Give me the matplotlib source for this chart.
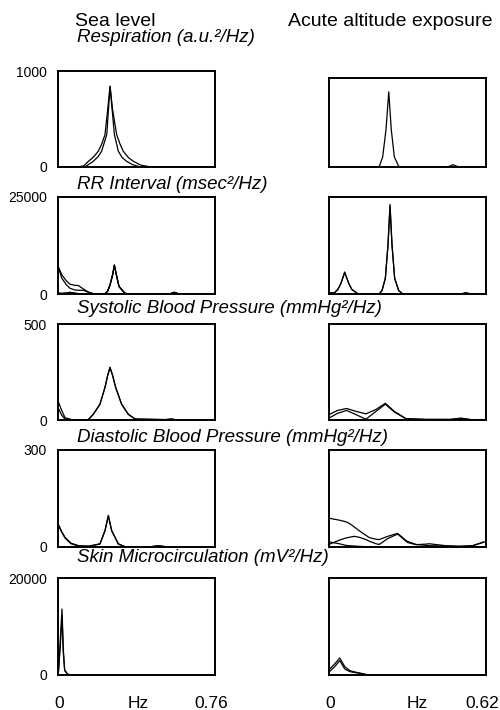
import numpy as np
import matplotlib
matplotlib.use('Agg')
import matplotlib.pyplot as plt

plt.rcParams['font.family'] = ['Liberation Sans', 'DejaVu Sans']

# column headers, panel titles, y limits, x limits
col_titles = ['Sea level', 'Acute altitude exposure']
row_titles = ['Respiration (a.u.²/Hz)', 'RR Interval (msec²/Hz)',
              'Systolic Blood Pressure (mmHg²/Hz)',
              'Diastolic Blood Pressure (mmHg²/Hz)',
              'Skin Microcirculation (mV²/Hz)']
y_max = [1000, 25000, 500, 300, 20000]
f_max = [0.76, 0.62]
f_labels = ['0.76', '0.62']

# Respiration
resp_sea_f1 = [0, 0.09, 0.125, 0.147, 0.17, 0.195, 0.212, 0.2275, 0.24, 0.252,
               0.264, 0.284, 0.30, 0.316, 0.34, 0.365, 0.40, 0.45, 0.76]
resp_sea_a = [0, 0, 12, 59, 100, 164, 240, 338, 590, 843,
              600, 338, 240, 164, 100, 59, 20, 0, 0]
resp_sea_f2 = [0, 0.13, 0.171, 0.195, 0.211, 0.236, 0.252, 0.273, 0.292, 0.31,
               0.332, 0.36, 0.40, 0.76]
resp_sea_b = [0, 0, 59, 110, 164, 338, 838, 338, 164, 100, 59, 25, 0, 0]
resp_alt_f = [0, 0.19, 0.199, 0.212, 0.225, 0.236, 0.246, 0.258, 0.275, 0.29,
              0.46, 0.473, 0.489, 0.508, 0.52, 0.62]
resp_alt_a = [0, 0, 8, 114, 417, 844, 417, 114, 8, 0, 0, 5, 26, 5, 0, 0]

# RR interval
rr_sea_f = [0, 0.018, 0.04, 0.058, 0.08, 0.098, 0.123, 0.147, 0.171, 0.2275, 0.24,
            0.252, 0.2646, 0.2727, 0.2824, 0.2953, 0.324, 0.35, 0.54, 0.563, 0.586, 0.76]
rr_sea_a = [7200, 5000, 3400, 2540, 2250, 2190, 1300, 500, 90, 90, 700,
            2370, 5000, 7450, 5000, 1930, 175, 0, 0, 440, 0, 0]
rr_sea_b = [7200, 4120, 2400, 1490, 1050, 960, 960, 440, 60, 90, 700,
            2370, 5000, 7450, 5000, 1930, 175, 0, 0, 440, 0, 0]
rr_sea_c = [300, 200, 300, 440, 300, 100, 50, 30, 30, 90, 700,
            2370, 5000, 7400, 5000, 1930, 175, 0, 0, 400, 0, 0]
rr_alt_f = [0, 0.021, 0.035, 0.0474, 0.0619, 0.0777, 0.09, 0.113, 0.19, 0.1988, 0.2093,
            0.2225, 0.233, 0.241, 0.2488, 0.2593, 0.2751, 0.291, 0.52, 0.541, 0.56, 0.62]
rr_alt_a = [300, 300, 1200, 2800, 5660, 2800, 1200, 100, 0, 50, 900,
            4100, 12800, 23080, 12800, 4100, 900, 50, 0, 350, 0, 0]
rr_alt_b = [250, 280, 1150, 2750, 5550, 2750, 1150, 100, 0, 50, 880,
            4000, 12500, 22600, 12500, 4000, 880, 50, 0, 300, 0, 0]

# Systolic blood pressure
sbp_sea_f = [0, 0.0178, 0.034, 0.066, 0.147, 0.171, 0.203, 0.2275, 0.24, 0.2517,
             0.265, 0.279, 0.308, 0.34, 0.373, 0.52, 0.548, 0.575, 0.76]
sbp_sea_a = [100, 50, 12, 2, 2, 30, 82, 170, 230, 275, 230, 170, 82, 30, 5, 2, 5, 1, 0]
sbp_sea_b = [65, 25, 5, 1, 2, 30, 82, 170, 230, 272, 230, 170, 82, 30, 5, 2, 5, 1, 0]
sbp_alt_f = [0, 0.0342, 0.0698, 0.1066, 0.146, 0.1856, 0.2225, 0.258, 0.304, 0.383,
             0.48, 0.521, 0.56, 0.62]
sbp_alt_a = [28, 50, 60, 45, 32, 55, 87, 45, 7, 3, 3, 10, 2, 2]
sbp_alt_b = [10, 35, 50, 28, 4, 45, 82, 42, 6, 3, 3, 8, 2, 2]

# Diastolic blood pressure
dbp_sea_f = [0, 0.0178, 0.0339, 0.0629, 0.1, 0.15, 0.2033, 0.2275, 0.2437, 0.2598,
             0.292, 0.324, 0.45, 0.486, 0.52, 0.76]
dbp_sea_a = [72, 48, 30, 12, 4, 2, 9, 51, 98, 51, 9, 1, 1, 4, 1, 0]
dbp_sea_b = [70, 46, 28, 10, 3, 3, 10, 50, 96, 50, 10, 1, 1, 4, 1, 0]
dbp_alt_f = [0, 0.0408, 0.067, 0.0803, 0.1, 0.1198, 0.146, 0.1593, 0.1856, 0.1988, 0.2317,
             0.2712, 0.304, 0.3107, 0.3436, 0.383, 0.396, 0.462, 0.5147, 0.5674, 0.612]
dbp_alt_a = [89, 83, 78, 73, 62, 50, 36, 29, 24, 23, 33, 42, 20, 17, 8, 5, 4, 3, 2, 4, 16]
dbp_alt_b = [8, 21, 28, 30, 33, 30, 23, 18, 10, 8, 26, 40, 18, 14, 7, 9, 10, 4, 2, 4, 15]
dbp_alt_c = [16, 10, 5, 4, 3, 2, 1, 1, 0, 0, 0, 0, 0, 0, 0, 0, 0, 0, 0, 0, 0]

# Skin microcirculation
skin_sea_f = [0, 0.003, 0.0112, 0.0193, 0.0258, 0.0323, 0.047, 0.08, 0.76]
skin_sea_a = [0, 1400, 7300, 13590, 5200, 1050, 140, 0, 0]
skin_sea_b = [0, 1000, 6000, 12200, 4500, 900, 100, 0, 0]
skin_alt_f = [0, 0.003, 0.0226, 0.0424, 0.0623, 0.082, 0.108, 0.122, 0.148, 0.155, 0.62]
skin_alt_a = [1240, 1240, 2280, 3520, 1730, 900, 550, 400, 70, 0, 0]
skin_alt_b = [750, 750, 1720, 2970, 1240, 700, 450, 350, 100, 0, 0]

curves = [
    [[(resp_sea_f1, resp_sea_a), (resp_sea_f2, resp_sea_b)],
     [(resp_alt_f, resp_alt_a)]],
    [[(rr_sea_f, rr_sea_a), (rr_sea_f, rr_sea_b), (rr_sea_f, rr_sea_c)],
     [(rr_alt_f, rr_alt_a), (rr_alt_f, rr_alt_b)]],
    [[(sbp_sea_f, sbp_sea_a), (sbp_sea_f, sbp_sea_b)],
     [(sbp_alt_f, sbp_alt_a), (sbp_alt_f, sbp_alt_b)]],
    [[(dbp_sea_f, dbp_sea_a), (dbp_sea_f, dbp_sea_b)],
     [(dbp_alt_f, dbp_alt_a), (dbp_alt_f, dbp_alt_b), (dbp_alt_f, dbp_alt_c)]],
    [[(skin_sea_f, skin_sea_a), (skin_sea_f, skin_sea_b)],
     [(skin_alt_f, skin_alt_a), (skin_alt_f, skin_alt_b)]],
]

W, H = 500, 710
fig = plt.figure(figsize=(W / 100, H / 100), dpi=100)

col_x = [58, 329]
ax_w = 157
row_tb = [(71, 167), (197, 294), (324, 420), (450, 547), (578, 675)]
title_base = [42, 189, 313, 442, 562]


def px_axes(x0, top, w, bottom):
    return fig.add_axes([x0 / W, 1 - bottom / H, w / W, (bottom - top) / H])


for r in range(5):
    fig.text(77 / W, 1 - title_base[r] / H, row_titles[r], fontsize=13.5,
             style='italic', ha='left', va='baseline')
    for c in range(2):
        top, bottom = row_tb[r]
        if r == 0 and c == 1:
            top = 78
        ax = px_axes(col_x[c], top, ax_w, bottom)
        for f, v in curves[r][c]:
            ax.plot(f, v, color='black', lw=0.9)
        ax.set_xlim(0, f_max[c])
        ax.set_ylim(0, y_max[r])
        for s in ax.spines.values():
            s.set_linewidth(1.4)
        ax.tick_params(length=0)
        ax.set_xticks([])
        if c == 0:
            ax.set_yticks([0, y_max[r]])
            ax.set_yticklabels(['0', str(y_max[r])], fontsize=10)
            ax.tick_params(axis='y', pad=8)
        else:
            ax.set_yticks([])
        if r == 4:
            # bottom frequency labels: 0, Hz, max
            hz_x = 0.51 if c == 0 else 0.56
            ax.annotate('0', xy=(0, 0), xycoords=('data', 'axes fraction'),
                        xytext=(0.5, -23.5), textcoords='offset points',
                        ha='center', va='baseline', fontsize=12.5)
            ax.annotate('Hz', xy=(hz_x, 0), xycoords='axes fraction',
                        xytext=(0, -23.5), textcoords='offset points',
                        ha='center', va='baseline', fontsize=12.5)
            ax.annotate(f_labels[c], xy=(f_max[c], 0), xycoords=('data', 'axes fraction'),
                        xytext=(-3 if c == 1 else -3, -23.5), textcoords='offset points',
                        ha='center', va='baseline', fontsize=12.5)

fig.text(115 / W, 1 - 22 / H, col_titles[0], fontsize=14, ha='center', va='center')
fig.text(390 / W, 1 - 22 / H, col_titles[1], fontsize=14, ha='center', va='center')

fig.savefig('out.png', dpi=100)
